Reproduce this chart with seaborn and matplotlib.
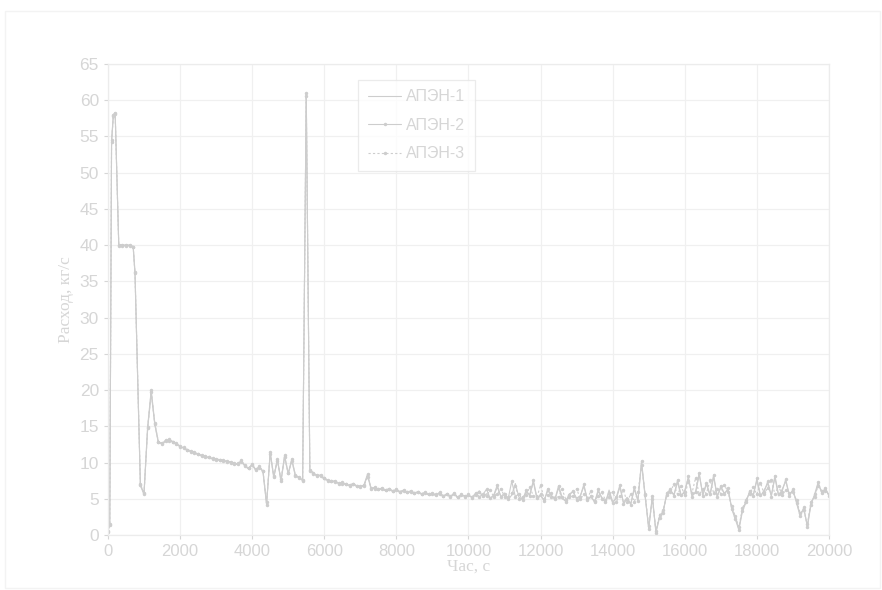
import matplotlib
matplotlib.use("Agg")
import matplotlib.pyplot as plt
from matplotlib.patches import Rectangle
import seaborn as sns
import pandas as pd

# Time grid, s
t = [0, 50, 100, 150, 200, 300, 400, 500, 600, 700, 750, 900, 1000, 1100, 1200,
     1300, 1400, 1500, 1600, 1700] + list(range(1800, 20001, 100))

# Flow rate of each pump, kg/s
apen1 = [0.5, 1.5, 54.0, 58.0, 58.2, 40.0, 40.0, 40.0, 40.0, 39.8, 36.0, 6.8, 5.6, 14.6, 19.6,
         15.2, 12.7, 12.6, 12.9, 13.1,
         # 1800-2700
         12.8, 12.5, 12.2, 12.0, 11.7, 11.5, 11.3, 11.1, 10.9, 10.8,
         # 2800-3700
         10.6, 10.5, 10.4, 10.3, 10.2, 10.1, 10.0, 9.9, 9.7, 10.2,
         # 3800-4700
         9.5, 9.1, 9.7, 8.9, 9.4, 8.7, 4.3, 11.3, 7.9, 10.4,
         # 4800-5700
         7.4, 10.8, 8.4, 10.3, 8.1, 7.9, 7.5, 60.8, 8.9, 8.5,
         # 5800-6700
         8.1, 8.2, 7.7, 7.5, 7.3, 7.4, 7.1, 7.2, 6.9, 6.8,
         # 6800-7700
         7.0, 6.7, 6.6, 6.8, 8.2, 6.3, 6.5, 6.2, 6.4, 6.1,
         # 7800-8700
         6.3, 6.0, 6.2, 5.9, 6.1, 5.8, 6.0, 5.7, 5.9, 5.6,
         # 8800-9700
         5.8, 5.5, 5.7, 5.4, 5.8, 5.3, 5.6, 5.2, 5.7, 5.1,
         # 9800-9900
         5.5, 5.4,
         # 10000-10900
         5.4, 5.3, 5.6, 6.1, 5.2, 5.7, 5.0, 5.4, 6.6, 5.3,
         # 11000-11900
         5.8, 4.9, 5.5, 7.1, 5.2, 4.9, 5.9, 5.6, 7.3, 5.0,
         # 12000-12900
         5.4, 4.8, 6.1, 5.5, 4.9, 6.5, 5.0, 4.7, 5.7, 5.9,
         # 13000-13900
         5.1, 5.4, 6.7, 4.9, 5.2, 4.6, 6.0, 5.2, 4.5, 6.2,
         # 14000-14900
         4.6, 5.0, 6.6, 4.5, 5.2, 4.3, 6.3, 4.8, 9.9, 5.3,
         # 15000-15900
         1.0, 5.2, 0.5, 2.6, 3.3, 5.6, 6.1, 5.6, 7.3, 5.3,
         # 16000-16900
         6.2, 7.8, 5.5, 5.8, 8.3, 5.6, 7.0, 5.4, 8.0, 5.4,
         # 17000-17900
         6.5, 5.8, 6.2, 3.8, 2.4, 0.9, 3.5, 4.7, 5.9, 5.6,
         # 18000-18900
         7.5, 5.3, 6.2, 7.1, 5.5, 7.9, 5.4, 6.3, 7.4, 5.6,
         # 19000-19900
         6.1, 4.6, 2.8, 3.6, 1.3, 4.4, 5.4, 7.0, 5.9, 6.3,
         # 20000
         5.5]

apen2 = [0.5, 1.5, 54.5, 58.0, 58.3, 40.0, 40.0, 40.0, 40.0, 39.8, 36.3, 6.9, 5.8, 14.9, 20.0,
         15.4, 12.8, 12.7, 13.0, 13.2,
         12.9, 12.6, 12.3, 12.0, 11.8, 11.6, 11.4, 11.2, 11.0, 10.9,
         10.7, 10.6, 10.5, 10.4, 10.3, 10.2, 10.1, 9.9, 9.8, 10.3,
         9.6, 9.2, 9.8, 9.0, 9.5, 8.8, 4.2, 11.5, 8.0, 10.5,
         7.5, 11.0, 8.5, 10.5, 8.2, 8.0, 7.6, 61.0, 9.0, 8.6,
         8.2, 8.3, 7.8, 7.6, 7.4, 7.5, 7.1, 7.3, 7.0, 6.9,
         7.1, 6.8, 6.7, 6.9, 8.4, 6.4, 6.6, 6.3, 6.5, 6.2,
         6.4, 6.1, 6.3, 6.0, 6.2, 5.9, 6.1, 5.8, 6.0, 5.7,
         5.9, 5.6, 5.8, 5.5, 5.9, 5.4, 5.7, 5.3, 5.8, 5.2,
         5.6, 5.3,
         5.5, 5.2, 5.8, 5.3, 5.6, 6.3, 5.1, 5.5, 6.9, 5.2,
         5.6, 5.0, 7.4, 5.3, 5.7, 4.8, 6.2, 5.4, 7.6, 5.1,
         5.6, 4.7, 6.4, 5.3, 5.0, 6.8, 5.2, 4.6, 5.5, 6.1,
         4.9, 5.3, 7.0, 4.8, 5.4, 4.5, 6.3, 5.0, 4.6, 5.8,
         4.4, 5.2, 6.9, 4.3, 5.0, 4.2, 6.6, 4.7, 10.2, 5.5,
         0.8, 5.4, 0.3, 2.4, 3.1, 5.8, 6.3, 5.4, 7.6, 5.5,
         5.9, 8.1, 5.3, 6.0, 8.6, 5.4, 7.2, 5.6, 8.3, 5.2,
         6.8, 5.6, 6.5, 3.6, 2.2, 0.7, 3.3, 4.5, 6.1, 5.4,
         7.8, 5.5, 5.9, 7.4, 5.3, 8.2, 5.6, 6.0, 7.7, 5.4,
         6.3, 4.4, 2.6, 3.8, 1.1, 4.2, 5.6, 7.3, 5.8, 6.5,
         5.4]

apen3 = [0.4, 1.4, 54.3, 57.8, 58.1, 39.9, 39.9, 39.9, 39.9, 39.7, 36.1, 7.0, 5.7, 14.7, 19.8,
         15.3, 12.9, 12.6, 13.1, 13.0,
         12.8, 12.7, 12.2, 12.1, 11.7, 11.5, 11.3, 11.2, 10.9, 10.8,
         10.7, 10.5, 10.4, 10.4, 10.2, 10.1, 10.0, 9.8, 9.9, 10.1,
         9.5, 9.3, 9.6, 9.1, 9.3, 8.9, 4.5, 11.2, 8.2, 10.2,
         7.7, 10.7, 8.6, 10.2, 8.3, 7.9, 7.4, 60.6, 8.8, 8.4,
         8.3, 8.1, 7.9, 7.5, 7.5, 7.3, 7.2, 7.1, 7.0, 6.8,
         7.0, 6.8, 6.6, 6.8, 8.0, 6.5, 6.4, 6.4, 6.3, 6.2,
         6.3, 6.1, 6.2, 6.0, 6.1, 5.9, 6.0, 5.8, 5.9, 5.7,
         5.8, 5.6, 5.7, 5.6, 5.7, 5.4, 5.6, 5.4, 5.6, 5.3,
         5.5, 5.4,
         5.6, 5.1, 5.5, 5.9, 5.4, 5.4, 6.2, 5.3, 5.6, 6.4,
         5.3, 5.2, 5.8, 6.8, 5.0, 5.3, 5.5, 6.6, 5.4, 5.2,
         6.9, 5.0, 5.5, 5.8, 5.1, 5.3, 6.3, 4.9, 5.2, 5.4,
         6.4, 5.0, 5.6, 5.1, 6.1, 4.7, 5.4, 5.9, 4.8, 5.3,
         6.0, 4.6, 5.4, 6.2, 4.5, 5.7, 4.6, 5.9, 9.6, 5.7,
         1.2, 5.0, 0.6, 2.8, 3.4, 5.5, 6.0, 7.0, 5.6, 6.7,
         5.5, 7.4, 5.8, 7.9, 5.6, 6.3, 5.7, 7.6, 5.8, 6.4,
         5.7, 6.9, 5.9, 4.0, 2.6, 1.1, 3.7, 4.9, 5.7, 6.6,
         5.6, 7.2, 5.7, 6.5, 7.6, 5.6, 6.8, 5.5, 6.2, 5.8,
         5.9, 4.8, 3.0, 3.4, 1.5, 4.6, 5.3, 6.8, 6.1, 6.1,
         5.6]

series = ["АПЭН-1", "АПЭН-2", "АПЭН-3"]
x_ticks = list(range(0, 20001, 2000))
y_ticks = list(range(0, 66, 5))

df = pd.concat([
    pd.DataFrame({"t": t, "q": apen1, "pump": series[0]}),
    pd.DataFrame({"t": t, "q": apen2, "pump": series[1]}),
    pd.DataFrame({"t": t, "q": apen3, "pump": series[2]}),
])

sns.set_theme(style="white")
plt.rcParams["font.family"] = ["Liberation Sans", "DejaVu Sans"]

TXT = "#d6d6d6"
LINE = "#cdcdcd"
GRID = "#f0f0f0"

fig = plt.figure(figsize=(8.82, 5.90), dpi=100)
fig.patches.append(Rectangle((0.006, 0.004), 0.992, 0.978, transform=fig.transFigure,
                             fill=False, edgecolor="#f3f3f3", linewidth=1.0))
ax = fig.add_axes([0.1224, 0.0932, 0.8175, 0.7983])

styles = {
    "АПЭН-1": dict(linestyle="-", marker=None),
    "АПЭН-2": dict(linestyle="-", marker="o", markersize=2.5),
    "АПЭН-3": dict(linestyle=(0, (2, 2)), marker="o", markersize=2.5),
}
for name in series:
    sub = df[df["pump"] == name]
    sns.lineplot(data=sub, x="t", y="q", ax=ax, color=LINE, linewidth=0.8,
                 markeredgewidth=0, label=name, estimator=None, sort=False,
                 **styles[name])

ax.set_xlim(0, 20000)
ax.set_ylim(0, 65)
ax.set_xticks(x_ticks)
ax.set_yticks(y_ticks)
ax.grid(True, color=GRID, linewidth=0.9)
for s in ax.spines.values():
    s.set_color("#ececec")
    s.set_linewidth(0.9)
ax.tick_params(axis="both", colors=TXT, length=3, width=0.8,
               direction="out", bottom=True, left=True)
ax.tick_params(axis="y", labelsize=12.5)
ax.tick_params(axis="x", labelsize=12)
for lab in ax.get_xticklabels() + ax.get_yticklabels():
    lab.set_color(TXT)

ax.set_xlabel("Час, с", family=["Liberation Serif", "DejaVu Serif"], fontsize=12.5,
              color=TXT, labelpad=0)
ax.set_ylabel("Расход, кг/с", family=["Liberation Serif", "DejaVu Serif"], fontsize=12.5,
              color=TXT, labelpad=4)

leg = ax.legend(loc="upper left", bbox_to_anchor=(0.347, 0.967), fontsize=11.5,
                frameon=True, fancybox=False, handlelength=2.1, handletextpad=0.3,
                borderpad=0.6, labelspacing=0.85, borderaxespad=0)
leg.get_frame().set_edgecolor("#e6e6e6")
leg.get_frame().set_linewidth(0.9)
for txt in leg.get_texts():
    txt.set_color(TXT)

fig.savefig("out.png", dpi=100, facecolor="white")
